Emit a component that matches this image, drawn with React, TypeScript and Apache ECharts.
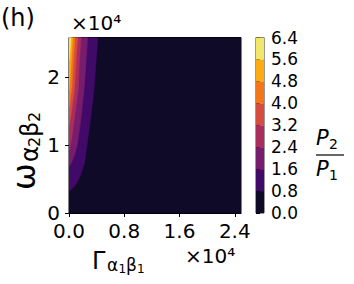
import React, { useEffect, useRef } from "react";
import * as echarts from "echarts";

// Contour levels of P2/P1 and their band colours (inferno)
const levels = [0, 0.8, 1.6, 2.4, 3.2, 4.0, 4.8, 5.6, 6.4];
const bandColors = ["#0e0a28", "#420a68", "#781c6d", "#a92e5e", "#d64c41", "#f37719", "#fcac11", "#f2e66b"];

// Axis extents (units of 1e4)
const xExtent = [0, 2.49];
const yExtent = [0, 2.58];
const xTicks = [0, 0.8, 1.6, 2.4];
const yTicks = [0, 1, 2];

// Contour boundaries: [Gamma, omega] from the top edge down to the omega axis
const boundary08 = [[0.42, 2.58], [0.39, 2.2], [0.365, 1.83], [0.31, 1.36], [0.26, 0.99], [0.225, 0.73], [0.16, 0.53], [0.1, 0.42], [0.05, 0.36], [0, 0.32]];
const boundary16 = [[0.27, 2.58], [0.245, 2.2], [0.22, 1.83], [0.17, 1.36], [0.12, 1.0], [0.08, 0.85], [0.04, 0.75], [0, 0.68]];
const boundary24 = [[0.175, 2.58], [0.15, 2.2], [0.135, 1.83], [0.075, 1.36], [0.04, 1.1], [0.015, 0.97], [0, 0.92]];
const boundary32 = [[0.125, 2.58], [0.1, 2.2], [0.08, 1.83], [0.03, 1.45], [0.01, 1.33], [0, 1.28]];
const boundary40 = [[0.087, 2.58], [0.06, 2.2], [0.042, 1.83], [0.015, 1.65], [0, 1.55]];
const boundary48 = [[0.053, 2.58], [0.03, 2.2], [0.012, 1.9], [0, 1.8]];
const boundary56 = [[0.03, 2.58], [0.012, 2.35], [0, 2.25]];

const FONT = "DejaVu Sans";

export default function App() {
  const ref = useRef<HTMLDivElement>(null);
  useEffect(() => {
    if (!ref.current) return;
    const chart = echarts.init(ref.current, undefined, { renderer: "svg" });

    const fullRect = [[xExtent[0], yExtent[1]], [xExtent[1], yExtent[1]], [xExtent[1], yExtent[0]], [xExtent[0], yExtent[0]]];
    const regions = [fullRect, boundary08, boundary16, boundary24, boundary32, boundary40, boundary48, boundary56];

    const tickFmt = (ticks: number[], dec: number) => (v: number) =>
      ticks.some((t) => Math.abs(t - v) < 1e-6) ? v.toFixed(dec) : "";

    const txt = (s: string, x: number, y: number, size: number, extra: any = {}) => ({
      type: "text", x, y,
      style: { text: s, fontSize: size, fontFamily: FONT, fill: "#000", verticalAlign: "middle", align: "left", ...extra },
    });

    const option: any = {
      animation: false,
      backgroundColor: "#fff",
      grid: [
        { left: 69, top: 37.5, width: 172, height: 175.5, show: true, borderColor: "#000", borderWidth: 1, backgroundColor: "transparent", containLabel: false },
        { left: 256, top: 37.5, width: 8, height: 175.5, show: true, borderColor: "#000", borderWidth: 0.8, containLabel: false },
      ],
      xAxis: [
        {
          type: "value", gridIndex: 0, min: xExtent[0], max: xExtent[1], interval: 0.8,
          axisLine: { show: true, onZero: false, lineStyle: { color: "#000", width: 1 } },
          axisTick: { show: true, inside: false, length: 4, lineStyle: { color: "#000" } },
          axisLabel: { show: true, fontSize: 20, fontFamily: FONT, color: "#000", margin: 8, showMaxLabel: false, formatter: tickFmt(xTicks, 1) },
          splitLine: { show: false },
        },
        { type: "value", gridIndex: 1, min: 0, max: 1, show: false },
      ],
      yAxis: [
        {
          type: "value", gridIndex: 0, min: yExtent[0], max: yExtent[1], interval: 1,
          axisLine: { show: true, onZero: false, lineStyle: { color: "#000", width: 1 } },
          axisTick: { show: true, inside: false, length: 4, lineStyle: { color: "#000" } },
          axisLabel: { show: true, fontSize: 20, fontFamily: FONT, color: "#000", margin: 9, showMaxLabel: false, formatter: tickFmt(yTicks, 0) },
          splitLine: { show: false },
        },
        {
          type: "value", gridIndex: 1, position: "right", min: levels[0], max: levels[levels.length - 1], interval: 0.8,
          axisLine: { show: false },
          axisTick: { show: true, inside: false, length: 4, lineStyle: { color: "#000" } },
          axisLabel: { show: true, fontSize: 17, fontFamily: FONT, color: "#000", margin: 7, formatter: (v: number) => v.toFixed(1) },
          splitLine: { show: false },
        },
      ],
      series: [
        {
          type: "custom",
          coordinateSystem: "cartesian2d",
          xAxisIndex: 0, yAxisIndex: 0,
          clip: true,
          data: regions.map((_, i) => [0, levels[i]]),
          renderItem: (params: any, api: any) => {
            const i = params.dataIndex;
            const pts = regions[i].map((p) => api.coord(p));
            if (i > 0) pts.push(api.coord([xExtent[0], yExtent[1]]));
            return { type: "polygon", shape: { points: pts }, style: { fill: bandColors[i], stroke: bandColors[i], lineWidth: 0.5 } };
          },
          silent: true,
        },
        {
          type: "custom",
          coordinateSystem: "cartesian2d",
          xAxisIndex: 1, yAxisIndex: 1,
          data: levels.slice(0, -1).map((lo, i) => [0, lo, levels[i + 1]]),
          renderItem: (params: any, api: any) => {
            const a = api.coord([0, api.value(2)]);
            const b = api.coord([1, api.value(1)]);
            return { type: "rect", shape: { x: a[0], y: a[1], width: b[0] - a[0], height: b[1] - a[1] }, style: { fill: bandColors[params.dataIndex] } };
          },
          silent: true,
        },
      ],
      graphic: [
        { type: "text", left: 1, top: 6, style: { text: "(h)", fontSize: 24, fontFamily: FONT, fill: "#000" } },
        { type: "text", left: 71, top: 13, style: { text: "×10⁴", fontSize: 20, fontFamily: FONT, fill: "#000" } },
        { type: "text", left: 185, top: 246, style: { text: "×10⁴", fontSize: 20, fontFamily: FONT, fill: "#000" } },
        // x-axis title: Gamma_{alpha1 beta1}
        txt("Γ", 92, 261, 24),
        txt("α", 107, 265, 17),
        txt("1", 118.5, 269, 12),
        txt("β", 126, 265, 17),
        txt("1", 137, 269, 12),
        // y-axis title: omega_{alpha2 beta2}, rotated
        {
          type: "group", x: 24, y: 190, rotation: Math.PI / 2,
          children: [
            txt("ω", 0, 0, 32),
            txt("α", 28, 6, 24),
            txt("2", 43, 10, 16),
            txt("β", 53, 6, 24),
            txt("2", 68, 10, 16),
          ],
        },
        // colour bar title: P2 / P1
        { type: "text", left: 316, top: 127, style: { text: "P", fontSize: 21, fontStyle: "italic", fontFamily: FONT, fill: "#000" } },
        { type: "text", left: 329, top: 137, style: { text: "2", fontSize: 14, fontFamily: FONT, fill: "#000" } },
        { type: "line", shape: { x1: 316, y1: 155, x2: 344, y2: 155 }, style: { stroke: "#000", lineWidth: 1.2 } },
        { type: "text", left: 316, top: 158, style: { text: "P", fontSize: 21, fontStyle: "italic", fontFamily: FONT, fill: "#000" } },
        { type: "text", left: 329, top: 168, style: { text: "1", fontSize: 14, fontFamily: FONT, fill: "#000" } },
      ],
    };
    chart.setOption(option);
    return () => chart.dispose();
  }, []);
  return <div ref={ref} style={{ position: "fixed", left: 0, top: 0, width: 354, height: 284 }} />;
}
